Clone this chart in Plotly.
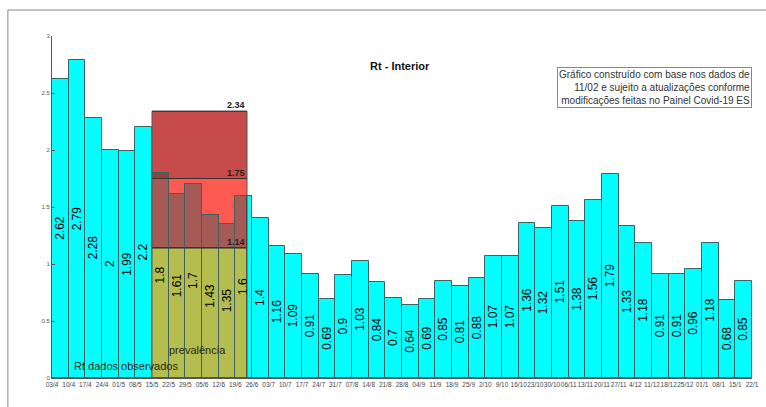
import plotly.graph_objects as go

dates = ["03/4","10/4","17/4","24/4","01/5","08/5","15/5","22/5","29/5","05/6","12/6","19/6","26/6",
         "03/7","10/7","17/7","24/7","31/7","07/8","14/8","21/8","28/8","04/9","11/9","18/9","25/9",
         "2/10","9/10","16/10","23/10","30/10","06/11","13/11","20/11","27/11","4/12","11/12","18/12",
         "25/12","01/1","08/1","15/1","22/1"]
rt_values = [2.62, 2.79, 2.28, 2, 1.99, 2.2, 1.8, 1.61, 1.7, 1.43, 1.35, 1.6, 1.4, 1.16, 1.09, 0.91,
             0.69, 0.9, 1.03, 0.84, 0.7, 0.64, 0.69, 0.85, 0.81, 0.88, 1.07, 1.07, 1.36, 1.32, 1.51,
             1.38, 1.56, 1.79, 1.33, 1.18, 0.91, 0.91, 0.96, 1.18, 0.68, 0.85]
prev_start, prev_end = 6, 11
box_x0, box_x1 = 5.5, 11.2
band_levels = [1.14, 1.75, 2.34]
y_ticks = [0, 0.5, 1, 1.5, 2, 2.5, 3]
y_ticklabels = ["0", "0.5", "1", "1.5", "2", "2.5", "3"]

CYAN = "#00FFFF"
OLIVE = "#B4BD4E"
RED = "#FF5A52"
DARKRED = "#C84B4B"
BAR_MID = "#A65A55"
BAR_TOP = "#8C4444"
EDGE = "#3C6262"
FONT = "Liberation Sans, Arial"

n = len(rt_values)
xs = list(range(n))
prev_idx = list(range(prev_start, prev_end + 1))
prev_vals = [rt_values[i] for i in prev_idx]
seg_w = [min(i + 0.5, box_x1) - (i - 0.5) for i in prev_idx]
seg_off = [-0.5] * len(prev_idx)

fig = go.Figure()

# cyan bars underneath (visible where the bar passes the box edge)
fig.add_trace(go.Bar(x=prev_idx, y=prev_vals, width=1,
                     marker=dict(color=CYAN, line=dict(color=EDGE, width=1)),
                     hoverinfo="skip", showlegend=False))

lo, mid, hi = band_levels
fig.add_trace(go.Bar(x=prev_idx, y=[min(v, lo) for v in prev_vals], base=0, width=seg_w, offset=seg_off,
                     marker=dict(color=OLIVE, line=dict(color="#5a5a2a", width=1)),
                     hoverinfo="skip", showlegend=False))
fig.add_trace(go.Bar(x=prev_idx, y=[max(min(v, mid) - lo, 0) for v in prev_vals], base=lo,
                     width=seg_w, offset=seg_off,
                     marker=dict(color=BAR_MID, line=dict(color="#5a2a2a", width=1)),
                     hoverinfo="skip", showlegend=False))
fig.add_trace(go.Bar(x=prev_idx, y=[max(v - mid, 0) for v in prev_vals], base=mid,
                     width=seg_w, offset=seg_off,
                     marker=dict(color=BAR_TOP, line=dict(color="#5a2a2a", width=1)),
                     hoverinfo="skip", showlegend=False))

colors = ["rgba(0,0,0,0)" if i in prev_idx else CYAN for i in xs]
fig.add_trace(go.Bar(
    x=xs, y=rt_values, width=1,
    marker=dict(color=colors, line=dict(color=EDGE, width=1)),
    text=[f"{v:g}" for v in rt_values],
    textposition="inside", insidetextanchor="middle", textangle=-90,
    constraintext="none",
    insidetextfont=dict(family=FONT, size=12, color="black"),
    showlegend=False, hoverinfo="skip"))

x0, x1 = box_x0, box_x1
shapes = [
    dict(type="rect", xref="x", yref="y", x0=x0, x1=x1, y0=0, y1=lo, fillcolor=OLIVE,
         line=dict(width=0), layer="below"),
    dict(type="rect", xref="x", yref="y", x0=x0, x1=x1, y0=lo, y1=mid, fillcolor=RED,
         line=dict(width=0), layer="below"),
    dict(type="rect", xref="x", yref="y", x0=x0, x1=x1, y0=mid, y1=hi, fillcolor=DARKRED,
         line=dict(width=0), layer="below"),
    dict(type="rect", xref="x", yref="y", x0=x0, x1=x1, y0=0, y1=hi, fillcolor="rgba(0,0,0,0)",
         line=dict(color="#555555", width=1)),
]
for lvl in band_levels:
    shapes.append(dict(type="line", xref="x", yref="y", x0=x0, x1=x1, y0=lvl, y1=lvl,
                       line=dict(color="#333333", width=1)))
shapes.append(dict(type="line", xref="paper", yref="paper", x0=-0.063, x1=-0.063, y0=1.076, y1=-0.09,
                   line=dict(color="#888888", width=1)))
shapes.append(dict(type="line", xref="paper", yref="paper", x0=-0.063, x1=1.03, y0=1.076, y1=1.076,
                   line=dict(color="#888888", width=1)))

annotations = []
for lvl in band_levels:
    annotations.append(dict(x=x1, y=lvl, xref="x", yref="y", text=f"<b>{lvl:g}</b>", showarrow=False,
                            xanchor="right", yanchor="bottom", yshift=-1,
                            font=dict(family=FONT, size=9, color="#222222")))
annotations += [
    dict(x=0.497, y=0.936, xref="paper", yref="paper", text="<b>Rt - Interior</b>", showarrow=False,
         font=dict(family=FONT, size=11, color="#111111")),
    dict(x=1.0, y=0.908, xref="paper", yref="paper", xanchor="right", yanchor="top", align="right",
         text="Gráfico construído com base nos dados de<br>11/02 e sujeito a atualizações conforme<br>modificações feitas no Painel Covid-19 ES",
         showarrow=False, bordercolor="#888888", borderwidth=1, borderpad=1, bgcolor="white",
         font=dict(family=FONT, size=10, color="#333333")),
    dict(x=8.2, y=0.25, xref="x", yref="y", text="prevalência", showarrow=False,
         font=dict(family=FONT, size=11, color="#2a2a10")),
    dict(x=3.95, y=0.105, xref="x", yref="y", text="Rt dados observados", showarrow=False,
         font=dict(family=FONT, size=11, color="#2a2a10")),
]

fig.update_layout(
    width=766, height=407,
    margin=dict(l=52, r=14, t=36, b=29),
    paper_bgcolor="white", plot_bgcolor="white",
    barmode="overlay", bargap=0,
    shapes=shapes, annotations=annotations,
    xaxis=dict(range=[-0.5, n - 0.5], tickvals=[i - 0.5 for i in range(n + 1)], ticktext=dates,
               tickangle=0, tickfont=dict(family=FONT, size=6.5, color="#444444"),
               showline=True, linecolor="#555555", showgrid=False, zeroline=False, ticks="",
               automargin=False),
    yaxis=dict(range=[0, 3], tickvals=y_ticks, ticktext=y_ticklabels,
               tickfont=dict(family=FONT, size=6, color="#555555"),
               showline=True, linecolor="#555555", showgrid=False, zeroline=False,
               ticks="inside", ticklen=3, tickcolor="#555555", automargin=False),
)

fig.write_html("out.html", config={"displayModeBar": False},
               post_script="document.body.style.margin='0';document.body.style.overflow='hidden';")
